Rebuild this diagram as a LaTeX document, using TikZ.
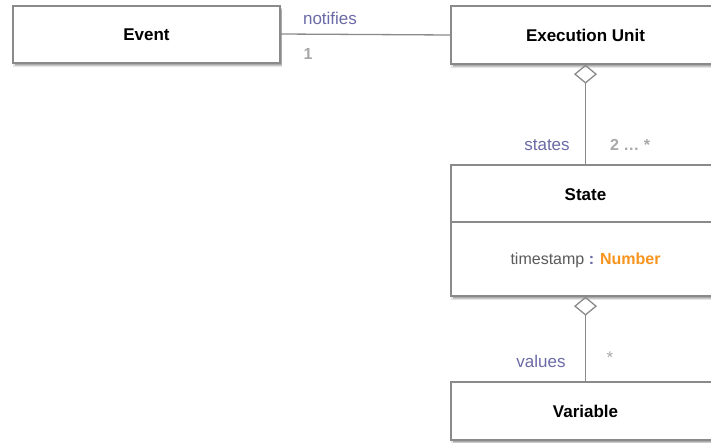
\documentclass[tikz,border=0pt]{standalone}
\usepackage{fontspec}
\setmainfont{Liberation Sans}
\usetikzlibrary{shadows,arrows.meta}
\definecolor{boxline}{HTML}{8A8A8A}
\definecolor{rolec}{HTML}{6A6AA6}
\definecolor{multc}{HTML}{A8A8A8}
\definecolor{attrc}{HTML}{5A5A5A}
\definecolor{typec}{HTML}{F7941D}
\tikzset{
  softshadow/.style={
    general shadow={shadow xshift=1pt, shadow yshift=-4pt, opacity=0.10, fill=black, shadow scale=1.005},
    general shadow={shadow xshift=2pt, shadow yshift=-3pt, opacity=0.12, fill=black},
    general shadow={shadow xshift=1.5pt, shadow yshift=-2pt, opacity=0.15, fill=black}},
  classbox/.style={draw=boxline, line width=1.3pt, fill=white, rectangle, inner sep=0pt, softshadow},
  classname/.style={font=\fontsize{17}{20}\selectfont\bfseries, text=black, inner sep=0pt},
  role/.style={font=\fontsize{17}{20}\selectfont, text=rolec, inner sep=0pt},
  mult/.style={font=\fontsize{16}{19}\selectfont\bfseries, text=multc, inner sep=0pt},
  conn/.style={draw=boxline, line width=1.3pt},
}
\begin{document}
\begin{tikzpicture}[x=1pt,y=-1pt]
\useasboundingbox (0,0) rectangle (711,442);
% boxes
\node[classbox, minimum width=267pt, minimum height=57pt] (event) at (146.5,34.5) {};
\node[classname] (eventname) at (event.center) {Event};
\node[classbox, minimum width=269pt, minimum height=58pt] (eu) at (585.5,35) {};
\node[classname] (euname) at (eu.center) {Execution Unit};
\node[classbox, minimum width=269pt, minimum height=131pt] (state) at (585.5,230.5) {};
\coordinate (divl) at (452,222);
\coordinate (divr) at (720,222);
\draw[conn] (divl) -- (divr);
\node[classname] (statename) at (585.5,195) {State};
\node[inner sep=0pt, font=\fontsize{16}{19}\selectfont] (attr) at (585.5,260)
  {\textcolor{attrc}{timestamp} \textcolor{rolec}{\bfseries :} \textcolor{typec}{\bfseries Number}};
\node[classbox, minimum width=269pt, minimum height=58pt] (var) at (585.5,411) {};
\node[classname] (varname) at (var.center) {Variable};
% connectors
\draw[conn] (event.east |- 0,34) -- (eu.west |- 0,35);
\draw[conn, {Diamond[open, length=19pt, width=23pt]}-] (eu.south) -- (state.north);
\draw[conn, {Diamond[open, length=19pt, width=23pt]}-] (state.south) -- (var.north);
% labels
\node[role] (lnotifies) at (330,18) {notifies};
\node[mult] (lone) at (308,54) {1};
\node[role] (lstates) at (547,145) {states};
\node[mult] (lmany) at (630,145) {2 … *};
\node[role] (lvalues) at (541,361) {values};
\node[mult, font=\fontsize{17}{20}\selectfont] (lstar) at (610,358) {*};
\end{tikzpicture}
\end{document}
